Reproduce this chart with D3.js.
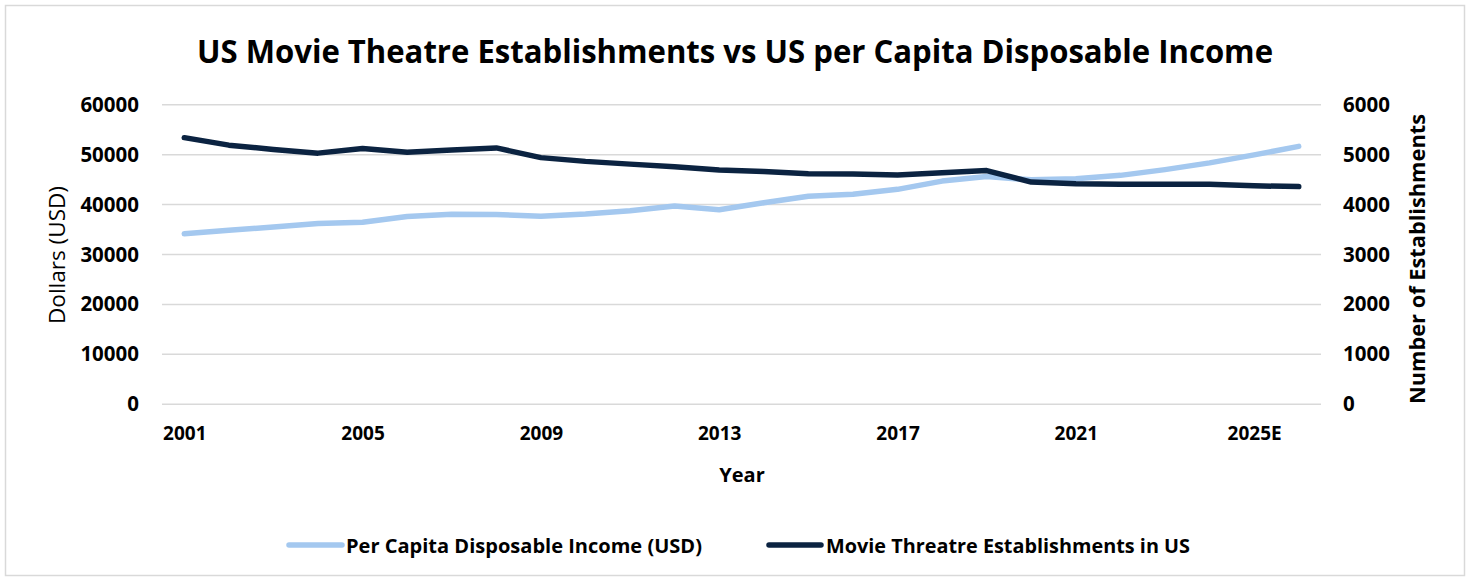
<!DOCTYPE html>
<html>
<head>
<meta charset="utf-8">
<script src="https://cdn.jsdelivr.net/npm/d3@7"></script>
<style>
  html, body { margin: 0; padding: 0; background: #ffffff; }
  svg { display: block; font-family: "Open Sans", "Noto Sans", sans-serif; }
</style>
</head>
<body>
<svg id="chart" width="1470" height="580"></svg>
<script>
const years = ["2001","2002","2003","2004","2005","2006","2007","2008","2009","2010",
  "2011","2012","2013","2014","2015","2016","2017","2018","2019","2020",
  "2021","2022","2023","2024","2025E","2026E"];
const income = [34150, 34850, 35500, 36200, 36450, 37600, 38050, 38000, 37650, 38100,
  38750, 39700, 38950, 40350, 41650, 42080, 43050, 44700, 45600, 44950,
  45150, 45850, 47000, 48350, 49950, 51650];
const establishments = [5340, 5190, 5105, 5030, 5125, 5050, 5095, 5135, 4940, 4865,
  4810, 4755, 4690, 4660, 4615, 4612, 4592, 4635, 4680, 4450,
  4415, 4408, 4408, 4408, 4375, 4360];
const xTickLabels = ["2001","2005","2009","2013","2017","2021","2025E"];
const leftTicks = [0, 10000, 20000, 30000, 40000, 50000, 60000];
const rightTicks = [0, 1000, 2000, 3000, 4000, 5000, 6000];
const seriesNames = ["Per Capita Disposable Income (USD)", "Movie Threatre Establishments in US"];
const colors = ["#a4c8ef", "#0b2341"];

const svg = d3.select("#chart");

// chart border
svg.append("rect").attr("x", 5.5).attr("y", 5.5).attr("width", 1459).attr("height", 570)
  .attr("fill", "#ffffff").attr("stroke", "#d9d9d9").attr("stroke-width", 1.5);

const plotLeft = 162, plotRight = 1321, plotTop = 104.7, plotBottom = 404.3;

const x = d3.scalePoint().domain(years).range([plotLeft, plotRight]).padding(0.5);
const yL = d3.scaleLinear().domain([0, 60000]).range([plotBottom, plotTop]);
const yR = d3.scaleLinear().domain([0, 6000]).range([plotBottom, plotTop]);

// title
svg.append("text").attr("x", 735).attr("y", 63).attr("text-anchor", "middle")
  .attr("font-size", 32).attr("font-weight", 700).attr("fill", "#000")
  .attr("textLength", 1076).attr("lengthAdjust", "spacingAndGlyphs")
  .text("US Movie Theatre Establishments vs US per Capita Disposable Income");

// gridlines
svg.append("g").selectAll("line").data(leftTicks).join("line")
  .attr("x1", plotLeft).attr("x2", plotRight)
  .attr("y1", d => yL(d)).attr("y2", d => yL(d))
  .attr("stroke", "#d9d9d9").attr("stroke-width", 1.5);

// left axis
const gL = svg.append("g").attr("transform", `translate(${plotLeft},0)`)
  .call(d3.axisLeft(yL).tickValues(leftTicks).tickSize(0).tickPadding(23).tickFormat(d3.format("d")));
gL.select(".domain").remove();
gL.selectAll("text").attr("font-size", 20.5).attr("font-weight", 700).attr("fill", "#000")
  .attr("font-family", "'Open Sans', sans-serif");

// right axis
const gR = svg.append("g").attr("transform", `translate(${plotRight},0)`)
  .call(d3.axisRight(yR).tickValues(rightTicks).tickSize(0).tickPadding(22).tickFormat(d3.format("d")));
gR.select(".domain").remove();
gR.selectAll("text").attr("font-size", 20.5).attr("font-weight", 700).attr("fill", "#000")
  .attr("font-family", "'Open Sans', sans-serif");

// x axis
const gX = svg.append("g").attr("transform", `translate(0,${plotBottom})`)
  .call(d3.axisBottom(x).tickValues(xTickLabels).tickSize(0).tickPadding(22));
gX.select(".domain").remove();
gX.selectAll("text").attr("font-size", 19).attr("font-weight", 700).attr("fill", "#000")
  .attr("font-family", "'Open Sans', sans-serif");

// axis titles
svg.append("text").attr("transform", "translate(65,255) rotate(-90)")
  .attr("text-anchor", "middle").attr("font-size", 22).attr("fill", "#000")
  .attr("textLength", 138).attr("lengthAdjust", "spacingAndGlyphs")
  .text("Dollars (USD)");
svg.append("text").attr("transform", "translate(1425,259) rotate(-90)")
  .attr("text-anchor", "middle").attr("font-size", 21).attr("font-weight", 700).attr("fill", "#000")
  .attr("textLength", 290).attr("lengthAdjust", "spacingAndGlyphs")
  .text("Number of Establishments");
svg.append("text").attr("x", 742).attr("y", 482).attr("text-anchor", "middle")
  .attr("font-size", 20).attr("font-weight", 700).attr("fill", "#000")
  .text("Year");

// lines
const lineL = d3.line().x((d, i) => x(years[i])).y(d => yL(d));
const lineR = d3.line().x((d, i) => x(years[i])).y(d => yR(d));
svg.append("path").datum(income).attr("d", lineL)
  .attr("fill", "none").attr("stroke", colors[0]).attr("stroke-width", 5.5)
  .attr("stroke-linecap", "round").attr("stroke-linejoin", "round");
svg.append("path").datum(establishments).attr("d", lineR)
  .attr("fill", "none").attr("stroke", colors[1]).attr("stroke-width", 5.5)
  .attr("stroke-linecap", "round").attr("stroke-linejoin", "round");

// legend
const legendItems = [
  { name: seriesNames[0], color: colors[0], x1: 289, x2: 342, tx: 346, len: 356 },
  { name: seriesNames[1], color: colors[1], x1: 769, x2: 821, tx: 826, len: 364 }
];
const lg = svg.append("g");
legendItems.forEach(it => {
  lg.append("line").attr("x1", it.x1).attr("x2", it.x2).attr("y1", 545).attr("y2", 545)
    .attr("stroke", it.color).attr("stroke-width", 5.5).attr("stroke-linecap", "round");
  lg.append("text").attr("x", it.tx).attr("y", 553).attr("font-size", 19.5).attr("font-weight", 700)
    .attr("fill", "#000").attr("textLength", it.len).attr("lengthAdjust", "spacingAndGlyphs")
    .text(it.name);
});
</script>
</body>
</html>
